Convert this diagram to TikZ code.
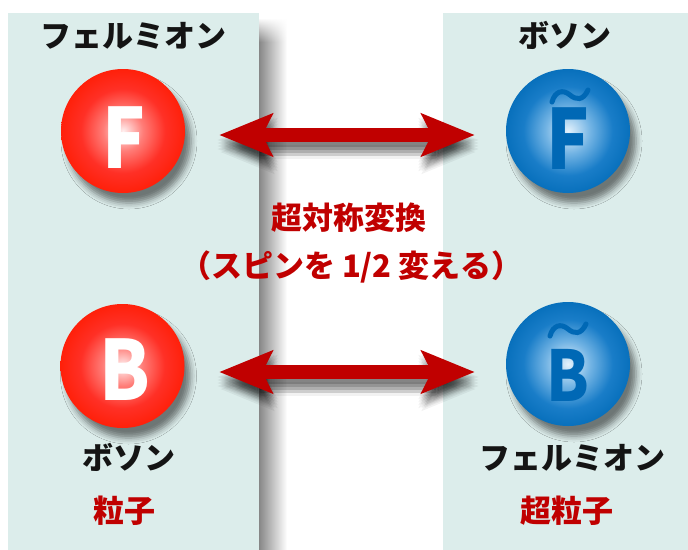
\documentclass[tikz,border=0pt]{standalone}
\usepackage{fontspec}
\newfontfamily\jp{Noto Sans CJK JP}
\usetikzlibrary{arrows.meta,shadows.blur,calc,fadings}
\definecolor{panel}{RGB}{220,237,235}
\definecolor{arrowred}{RGB}{192,0,0}
\definecolor{txtred}{RGB}{192,0,0}
\definecolor{txtblack}{RGB}{20,20,20}
\definecolor{ballblue}{RGB}{0,104,181}
\definecolor{rc0}{RGB}{255,240,240}
\definecolor{rc1}{RGB}{255,125,120}
\definecolor{rc2}{RGB}{255,48,38}
\definecolor{rc3}{RGB}{255,32,10}
\definecolor{bc0}{RGB}{228,242,252}
\definecolor{bc1}{RGB}{115,180,228}
\definecolor{bc2}{RGB}{25,125,200}
\definecolor{bc3}{RGB}{8,112,188}
\definecolor{sh0}{RGB}{135,135,135}
\definecolor{sh1}{RGB}{205,205,205}
\pgfdeclareradialshading{redball}{\pgfpoint{0bp}{0bp}}{color(0bp)=(rc0); color(8bp)=(rc1); color(17bp)=(rc2); color(25bp)=(rc3); color(50bp)=(rc3)}
\pgfdeclareradialshading{blueball}{\pgfpoint{0bp}{0bp}}{color(0bp)=(bc0); color(9bp)=(bc1); color(18bp)=(bc2); color(25bp)=(bc3); color(50bp)=(bc3)}
\tikzfading[name=fadetop, top color=transparent!100, bottom color=transparent!0]
\tikzset{
  ball/.style={circle, minimum size=124pt, inner sep=0pt,
    blur shadow={shadow xshift=6pt, shadow yshift=-10pt, shadow blur radius=6pt, shadow opacity=50}},
  rball/.style={ball, shading=redball},
  bball/.style={ball, shading=blueball},
  ltr/.style={inner sep=0pt, font=\jp\bfseries\fontsize{83}{83}\selectfont},
  ltrsmall/.style={inner sep=0pt, font=\jp\bfseries\fontsize{70}{70}\selectfont},
  tildestroke/.style={draw=ballblue, line width=5pt, line cap=round},
  lbl/.style={inner sep=0pt, text height=0.8em, text depth=0.1em, font=\jp\bfseries\fontsize{31}{36}\selectfont},
  blk/.style={lbl, text=txtblack},
  red/.style={lbl, text=txtred},
  panelshade/.style={left color=sh0, middle color=sh1, right color=white, shading angle=0},
  dblarrow/.style={line width=14pt, draw=arrowred,
    {Stealth[length=53pt,width=42pt,inset=10pt]}-{Stealth[length=53pt,width=42pt,inset=10pt]}},
  arrowshadow/.style={line width=14pt, draw=black, opacity=0.05,
    {Stealth[length=53pt,width=42pt,inset=10pt]}-{Stealth[length=53pt,width=42pt,inset=10pt]}}
}
\begin{document}
\begin{tikzpicture}[x=1pt,y=-1pt]
\useasboundingbox (0,0) rectangle (688,549);
\fill[white] (0,0) rectangle (688,549);
% panel shadow
\shade[left color=sh0, middle color=sh1, right color=white] (259,42) rectangle (287,549);
\shade[left color=sh0, middle color=sh1, right color=white, path fading=fadetop] (259,18) rectangle (287,42);
% panels
\fill[panel] (8,13) rectangle (259,600);
\fill[panel] (443,13) rectangle (720,600);
% balls
\node[rball] (fL) at (123,131) {};
\node[bball] (fR) at (568,131) {};
\node[rball] (bL) at (122.5,366) {};
\node[bball] (bR) at (568,364) {};
% arrow shadows
\foreach \dx/\dy in {-2/5,1/5,4/5,-2/8,1/8,4/8,-2/11,1/11,4/11,-2/14,1/14,4/14,1/17}{
  \draw[arrowshadow] ([shift={(34+\dx,4+\dy)}]fL.east) -- ([shift={(-31+\dx,4+\dy)}]fR.west);
  \draw[arrowshadow] ([shift={(34.5+\dx,6+\dy)}]bL.east) -- ([shift={(-31+\dx,8+\dy)}]bR.west);
}
% arrows
\draw[dblarrow] ([shift={(34,4)}]fL.east) -- ([shift={(-31,4)}]fR.west);
\draw[dblarrow] ([shift={(34.5,6)}]bL.east) -- ([shift={(-31,8)}]bR.west);
% letters
\node[ltr, text=white] (fLt) at ($(fL.center)+(1,6.5)$) {\scalebox{0.86}[1]{F}};
\node[ltr, text=white] (bLt) at ($(bL.center)+(2.5,4)$) {\scalebox{0.88}[1]{B}};
\node[ltr, text=ballblue] (fRt) at ($(fR.center)+(0,7.5)$) {\scalebox{0.86}[1]{F}};
\node[ltrsmall, text=ballblue] (bRt) at ($(bR.center)+(0,11)$) {\scalebox{0.88}[1]{B}};
\begin{scope}[shift={(fR.center)}]
  \draw[tildestroke] (-16,-29) .. controls (-13,-40) and (-5,-42) .. (2,-36) .. controls (8,-31) and (15,-30) .. (20,-41);
\end{scope}
\begin{scope}[shift={(bR.center)}]
  \draw[tildestroke] (-18,-28) .. controls (-15,-39) and (-7,-41) .. (0,-35) .. controls (6,-30) and (13,-29) .. (18,-40);
\end{scope}
% labels
\node[blk] (tl) at (133,44) {フェルミオン};
\node[blk] (tr) at (565,44) {ボソン};
\node[red] (m1) at (349,226) {超対称変換};
\node[red] (m2) at (351,274) {（スピンを 1/2 変える）};
\node[blk] (bl) at (129,466) {ボソン};
\node[red] (p1) at (124,519) {粒子};
\node[blk] (br) at (572,466) {フェルミオン};
\node[red] (p2) at (567,519) {超粒子};
\end{tikzpicture}
\end{document}
